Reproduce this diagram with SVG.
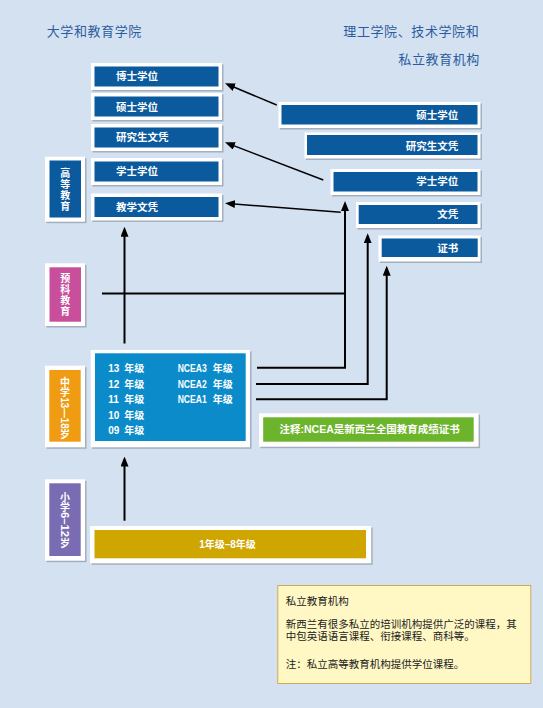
<svg xmlns="http://www.w3.org/2000/svg" width="543" height="708" viewBox="0 0 543 708">
<style>
.sh{fill:#a3afbd}
.w{fill:#ffffff}
.db{fill:#0b5a9d}
.bt{font-family:'Liberation Sans','Noto Sans CJK SC',sans-serif;font-size:10.5px;font-weight:bold;fill:#ffffff}
.title{font-family:'Liberation Sans','Noto Sans CJK SC',sans-serif;font-size:13px;letter-spacing:0.6px;fill:#2b5d9e}
.vt{font-family:'Liberation Sans','Noto Sans CJK SC',sans-serif;font-size:10px;font-weight:bold;fill:#ffffff;text-anchor:middle}
.vr{font-family:'Liberation Sans','Noto Sans CJK SC',sans-serif;font-size:10px;font-weight:bold;fill:#ffffff}
.gt{font-family:'Liberation Sans','Noto Sans CJK SC',sans-serif;font-size:10px;font-weight:bold;fill:#ffffff}
.nt{font-family:'Liberation Sans','Noto Sans CJK SC',sans-serif;font-size:10.5px;fill:#222222}
.ln{fill:none;stroke:#000;stroke-width:2}
.dg{fill:none;stroke:#000;stroke-width:1.5}
</style>
<defs>
<marker id="ah" viewBox="0 0 10 8" refX="7" refY="4" markerWidth="10" markerHeight="8" markerUnits="userSpaceOnUse" orient="auto">
<path d="M0,0 L10,4 L0,8 z" fill="#000"/>
</marker>
</defs>
<rect x="0" y="0" width="543" height="708" fill="#d4e1f1"/>

<g id="titles">
<text class="title" x="46.7" y="35.5">大学和教育学院</text>
<text class="title" x="343.3" y="35.5">理工学院、技术学院和</text>
<text class="title" x="398.3" y="64">私立教育机构</text>
</g>

<g id="uni-doctor">
<rect class="sh" x="92.5" y="64.5" width="131" height="27"/>
<rect class="w" x="91" y="63" width="131" height="27"/>
<rect class="db" x="94.5" y="66.5" width="124" height="20"/>
<text class="bt" x="116" y="80">博士学位</text>
</g>
<g id="uni-master">
<rect class="sh" x="92.5" y="94.5" width="131" height="27"/>
<rect class="w" x="91" y="93" width="131" height="27"/>
<rect class="db" x="94.5" y="96.5" width="124" height="20"/>
<text class="bt" x="116" y="110.5">硕士学位</text>
</g>
<g id="uni-pgdip">
<rect class="sh" x="92.5" y="125.5" width="131" height="27"/>
<rect class="w" x="91" y="124" width="131" height="27"/>
<rect class="db" x="94.5" y="127.5" width="124" height="20"/>
<text class="bt" x="116" y="141">研究生文凭</text>
</g>
<g id="uni-bachelor">
<rect class="sh" x="92.5" y="159.5" width="131" height="27"/>
<rect class="w" x="91" y="158" width="131" height="27"/>
<rect class="db" x="94.5" y="161.5" width="124" height="20"/>
<text class="bt" x="116" y="175">学士学位</text>
</g>
<g id="uni-teachdip">
<rect class="sh" x="92.5" y="195" width="131" height="27"/>
<rect class="w" x="91" y="193.5" width="131" height="27"/>
<rect class="db" x="94.5" y="197" width="124" height="20"/>
<text class="bt" x="116" y="210.5">教学文凭</text>
</g>

<g id="poly-master">
<rect class="sh" x="280" y="103.5" width="202" height="26"/>
<rect class="w" x="278.5" y="102" width="202" height="26"/>
<rect class="db" x="281.5" y="105" width="196" height="19.5"/>
<text class="bt" x="458.3" y="119" text-anchor="end">硕士学位</text>
</g>
<g id="poly-pgdip">
<rect class="sh" x="306" y="134" width="176" height="26"/>
<rect class="w" x="304.5" y="132.5" width="176" height="26"/>
<rect class="db" x="307" y="135" width="170.5" height="20"/>
<text class="bt" x="458.3" y="149.5" text-anchor="end">研究生文凭</text>
</g>
<g id="poly-bachelor">
<rect class="sh" x="332" y="170.5" width="150" height="26"/>
<rect class="w" x="330.5" y="169" width="150" height="26"/>
<rect class="db" x="333.5" y="172" width="144" height="19.5"/>
<text class="bt" x="458.3" y="185" text-anchor="end">学士学位</text>
</g>
<g id="poly-diploma">
<rect class="sh" x="357.5" y="203.5" width="124.5" height="26"/>
<rect class="w" x="356" y="202" width="124.5" height="26"/>
<rect class="db" x="358.7" y="205" width="118.8" height="19"/>
<text class="bt" x="458.3" y="217.5" text-anchor="end">文凭</text>
</g>
<g id="poly-cert">
<rect class="sh" x="380" y="237" width="102" height="26"/>
<rect class="w" x="378.5" y="235.5" width="102" height="26"/>
<rect class="db" x="381.7" y="238.5" width="96" height="18.5"/>
<text class="bt" x="458.3" y="251.5" text-anchor="end">证书</text>
</g>

<g id="label-higher">
<rect class="sh" x="46.5" y="158.2" width="40" height="65"/>
<rect class="w" x="45" y="156.7" width="40" height="65"/>
<rect fill="#0b5a9d" x="49.5" y="160.5" width="31.5" height="57"/>
<text class="vt"><tspan x="65.3" y="176.5">高</tspan><tspan x="65.3" y="187.5">等</tspan><tspan x="65.3" y="198.5">教</tspan><tspan x="65.3" y="209.5">育</tspan></text>
</g>
<g id="label-foundation">
<rect class="sh" x="46.5" y="264.8" width="40" height="62.7"/>
<rect class="w" x="45" y="263.3" width="40" height="62.7"/>
<rect fill="#c84f9b" x="49.5" y="267.3" width="31.5" height="54.4"/>
<text class="vt"><tspan x="65.3" y="282">预</tspan><tspan x="65.3" y="293">科</tspan><tspan x="65.3" y="304">教</tspan><tspan x="65.3" y="315">育</tspan></text>
</g>
<g id="label-secondary">
<rect class="sh" x="46.5" y="367.2" width="40" height="81.6"/>
<rect class="w" x="45" y="365.7" width="40" height="81.6"/>
<rect fill="#f09c12" x="49.3" y="370" width="31.4" height="71.7"/>
<text class="vt"><tspan x="65" y="386">中</tspan><tspan x="65" y="396">学</tspan></text>
<text class="vr" transform="translate(65,397.5) rotate(90)" x="0" y="3.6" textLength="31" lengthAdjust="spacingAndGlyphs">13—18</text>
<text class="vt" x="65" y="437.5">岁</text>
</g>
<g id="label-primary">
<rect class="sh" x="46.5" y="480.8" width="40" height="81.4"/>
<rect class="w" x="45" y="479.3" width="40" height="81.4"/>
<rect fill="#7a6cb2" x="49.3" y="483.3" width="31.4" height="72.7"/>
<text class="vt"><tspan x="65" y="500.5">小</tspan><tspan x="65" y="510.5">学</tspan></text>
<text class="vr" transform="translate(65,512) rotate(90)" x="0" y="3.6" textLength="25" lengthAdjust="spacingAndGlyphs">6–12</text>
<text class="vt" x="65" y="547">岁</text>
</g>

<g id="secondary">
<rect class="sh" x="92.2" y="351.5" width="159.3" height="97.3"/>
<rect class="w" x="90.7" y="350" width="159.3" height="97.3"/>
<rect fill="#0b8bca" x="95" y="353.3" width="150.7" height="87.7"/>
<g class="gt">
<text x="108.3" y="372.3"><tspan>13</tspan><tspan x="124.3">年级</tspan></text>
<text x="108.3" y="387.8"><tspan>12</tspan><tspan x="124.3">年级</tspan></text>
<text x="108.3" y="403.3"><tspan>11</tspan><tspan x="124.3">年级</tspan></text>
<text x="108.3" y="418.8"><tspan>10</tspan><tspan x="124.3">年级</tspan></text>
<text x="108.3" y="434.3"><tspan>09</tspan><tspan x="124.3">年级</tspan></text>
<text x="177.7" y="372.3"><tspan textLength="29" lengthAdjust="spacingAndGlyphs">NCEA3</tspan><tspan x="212.7">年级</tspan></text>
<text x="177.7" y="387.8"><tspan textLength="29" lengthAdjust="spacingAndGlyphs">NCEA2</tspan><tspan x="212.7">年级</tspan></text>
<text x="177.7" y="403.3"><tspan textLength="29" lengthAdjust="spacingAndGlyphs">NCEA1</tspan><tspan x="212.7">年级</tspan></text>
</g>
</g>

<g id="ncea-note">
<rect class="sh" x="260.5" y="414.8" width="219.6" height="33.4"/>
<rect class="w" x="259" y="413.3" width="219.6" height="33.4"/>
<rect fill="#6cb42c" x="263.2" y="417.3" width="210.5" height="24.4"/>
<text class="bt" x="369.6" y="432.5" text-anchor="middle">注释:NCEA是新西兰全国教育成绩证书</text>
</g>

<g id="primary">
<rect class="sh" x="91.5" y="527.5" width="281.2" height="37.3"/>
<rect class="w" x="90" y="526" width="281.2" height="37.3"/>
<rect fill="#cfa500" x="94.5" y="530" width="271.5" height="28.3"/>
<text class="gt" x="227.5" y="547.5" text-anchor="middle">1年级–8年级</text>
</g>

<g id="private-note">
<rect x="277.8" y="585.5" width="253" height="98" fill="#fff8c4" stroke="#d2a955" stroke-width="1"/>
<text class="nt" x="285.7" y="604.5">私立教育机构</text>
<text class="nt" x="285.7" y="628">新西兰有很多私立的培训机构提供广泛的课程，其</text>
<text class="nt" x="285.7" y="639.5">中包英语语言课程、衔接课程、商科等。</text>
<text class="nt" x="285.7" y="668">注：私立高等教育机构提供学位课程。</text>
</g>

<g id="connectors">
<path class="ln" d="M124.5,343.5 V229.7" marker-end="url(#ah)"/>
<path class="ln" d="M124.5,520.7 V459.5" marker-end="url(#ah)"/>
<path class="ln" d="M102,293.5 H345"/>
<path class="ln" d="M257,367.7 H345 V204" marker-end="url(#ah)"/>
<path class="ln" d="M256,384 H367.7 V236.3" marker-end="url(#ah)"/>
<path class="ln" d="M256,399.3 H386.7 V268.7" marker-end="url(#ah)"/>
<path class="dg" d="M276.7,105 L227.8,84.5" marker-end="url(#ah)"/>
<path class="dg" d="M323.3,180 L227.8,143.4" marker-end="url(#ah)"/>
<path class="dg" d="M340.7,212.3 L228,203.5" marker-end="url(#ah)"/>
</g>
</svg>
